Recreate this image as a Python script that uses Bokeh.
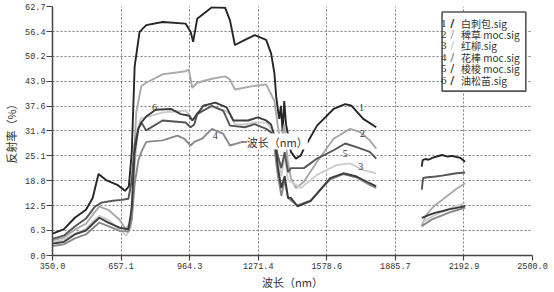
from bokeh.plotting import figure
from bokeh.models import Range1d, FixedTicker, NumeralTickFormatter, Label, BoxAnnotation
from bokeh.core.properties import value
from bokeh.embed import file_html
from bokeh.resources import INLINE

# ---------------- data ----------------
names = ["白刺包.sig", "稗草 moc.sig", "红柳.sig", "花棒 moc.sig", "梭梭 moc.sig", "油松苗.sig"]
colors = ["#262626", "#a9a9a9", "#cdcdcd", "#8a8a8a", "#555555", "#3c3c3c"]

x_ticks = [350.0, 657.1, 964.3, 1271.4, 1578.6, 1885.7, 2192.9, 2500.0]
y_ticks = [0.0, 6.3, 12.5, 18.8, 25.1, 31.4, 37.6, 43.9, 50.2, 56.4, 62.7]

# curve 1 白刺包
wl1a = [350, 400, 450, 500, 530, 556, 590, 640, 675, 692, 705, 718, 740, 770, 843, 946, 969, 980, 998, 1064, 1123,
        1145, 1167, 1212, 1256, 1307, 1329, 1344, 1352, 1360, 1366, 1373, 1381, 1388, 1396, 1403, 1418, 1440, 1462,
        1476, 1535, 1609, 1661, 1690, 1742, 1800]
r1a = [5.5, 6.6, 9.5, 11.5, 14.5, 20.5, 19.0, 17.8, 16.3, 17.4, 26.0, 47.6, 56.3, 58.0, 58.8, 58.4, 56.3, 53.8, 59.6,
       62.5, 62.4, 59.2, 53.0, 54.3, 55.5, 54.3, 50.9, 45.9, 40.0, 36.5, 34.4, 37.7, 31.0, 38.9, 33.0, 31.0, 26.1,
       24.4, 25.2, 26.9, 32.7, 36.9, 38.1, 37.7, 34.4, 32.3]
wl1b = [2004, 2008, 2020, 2035, 2051, 2075, 2095, 2120, 2139, 2160, 2176, 2198]
r1b = [22.4, 24.0, 24.3, 24.1, 24.6, 25.0, 25.3, 24.9, 25.1, 24.8, 24.6, 23.6]

# curve 2 稗草
wl2a = [350, 400, 450, 500, 540, 560, 600, 650, 680, 700, 712, 725, 748, 770, 843, 946, 961, 976, 998, 1064, 1123,
        1145, 1167, 1241, 1307, 1344, 1359, 1373, 1388, 1403, 1418, 1440, 1476, 1535, 1609, 1683, 1727, 1771, 1800]
r2a = [3.8, 4.5, 6.5, 8.0, 11.0, 12.3, 11.5, 9.0, 6.5, 8.5, 20.0, 36.0, 42.7, 43.5, 45.6, 46.4, 46.8, 42.2, 43.5,
       44.5, 45.1, 44.3, 41.8, 42.6, 43.1, 38.9, 32.7, 28.0, 33.0, 24.0, 19.5, 17.0, 18.6, 23.6, 29.4, 31.9, 31.1,
       29.0, 26.9]
wl2b = [2004, 2021, 2040, 2066, 2095, 2125, 2160, 2198]
r2b = [7.4, 9.9, 11.3, 12.8, 14.0, 15.3, 16.8, 18.2]

# curve 3 红柳
wl3a = [350, 400, 450, 500, 540, 560, 600, 650, 680, 700, 715, 730, 745, 843, 946, 969, 980, 998, 1064, 1123, 1145,
        1167, 1212, 1256, 1307, 1329, 1344, 1360, 1375, 1390, 1405, 1418, 1462, 1535, 1624, 1683, 1742, 1800]
r3a = [3.3, 4.0, 5.5, 6.8, 9.0, 10.0, 9.0, 6.5, 5.0, 7.0, 20.0, 31.0, 34.5, 36.0, 36.5, 35.0, 34.0, 36.0, 37.5, 36.5,
       35.5, 33.0, 33.0, 33.5, 33.5, 32.0, 30.0, 24.0, 20.0, 25.0, 19.0, 18.6, 17.0, 20.3, 22.8, 23.2, 21.5, 20.7]
wl3b = [2004, 2050, 2100, 2150, 2198]
r3b = [8.3, 9.8, 11.2, 12.3, 13.2]

# curve 4 花棒
wl4a = [350, 400, 450, 500, 540, 560, 600, 650, 690, 705, 718, 735, 748, 770, 843, 910, 940, 969, 985, 1020, 1064,
        1115, 1145, 1200, 1240, 1307, 1344, 1360, 1375, 1390, 1405, 1447, 1506, 1594, 1653, 1712, 1771, 1800]
r4a = [2.4, 2.8, 4.3, 5.3, 7.3, 8.3, 7.4, 6.2, 6.0, 9.0, 18.0, 24.0, 26.1, 28.6, 29.0, 30.2, 29.4, 27.7, 28.6, 29.4,
       31.9, 30.6, 27.7, 28.6, 28.5, 29.0, 27.0, 20.0, 15.0, 19.0, 14.5, 12.6, 13.9, 19.2, 20.5, 19.6, 17.8, 17.0]
wl4b = [2004, 2050, 2090, 2125, 2160, 2198]
r4b = [7.4, 9.1, 10.0, 10.8, 11.4, 12.0]

# curve 5 梭梭
wl5a = [350, 400, 450, 500, 540, 570, 620, 660, 690, 705, 718, 735, 748, 770, 843, 946, 969, 985, 998, 1064, 1115,
        1145, 1212, 1256, 1307, 1329, 1344, 1360, 1375, 1390, 1405, 1418, 1476, 1535, 1609, 1661, 1712, 1771, 1800]
r5a = [4.2, 5.0, 7.3, 9.3, 12.3, 13.3, 13.8, 14.0, 14.3, 19.0, 28.0, 32.0, 33.5, 31.5, 34.0, 33.5, 32.3, 33.0, 35.6,
       37.7, 36.4, 32.7, 32.3, 33.1, 31.9, 31.0, 29.0, 25.0, 22.0, 26.0, 21.0, 22.0, 22.0, 24.4, 26.5, 28.2, 27.3,
       26.1, 24.4]
wl5b = [2004, 2010, 2030, 2066, 2095, 2125, 2160, 2198]
r5b = [16.6, 19.5, 19.7, 19.9, 20.1, 20.4, 20.7, 20.9]

# curve 6 油松苗
wl6a = [350, 400, 450, 500, 540, 560, 600, 650, 690, 705, 718, 735, 748, 770, 812, 880, 925, 962, 976, 1026, 1079,
        1130, 1160, 1226, 1270, 1307, 1329, 1344, 1360, 1375, 1390, 1405, 1418, 1447, 1506, 1594, 1653, 1712, 1771,
        1800]
r6a = [3.0, 3.4, 5.3, 6.3, 8.5, 9.5, 8.3, 7.0, 6.6, 12.0, 26.0, 32.0, 33.5, 35.0, 36.7, 36.9, 35.6, 35.2, 34.0,
       37.7, 38.5, 37.3, 34.0, 34.0, 34.8, 34.0, 33.0, 30.0, 22.0, 17.0, 20.0, 14.5, 14.5, 12.4, 13.7, 19.5, 20.7,
       19.9, 18.2, 17.4]
wl6b = [2004, 2040, 2066, 2100, 2125, 2160, 2198]
r6b = [9.5, 10.3, 10.8, 11.2, 11.6, 12.0, 12.4]

series_a = [(wl1a, r1a), (wl2a, r2a), (wl3a, r3a), (wl4a, r4a), (wl5a, r5a), (wl6a, r6a)]
series_b = [(wl1b, r1b), (wl2b, r2b), (wl3b, r3b), (wl4b, r4b), (wl5b, r5b), (wl6b, r6b)]

curve_tags = ["1", "2", "5", "3", "4", "6"]
tag_x = [1734, 1738, 1661, 1731, 1079, 807]
tag_y = [37.3, 30.6, 25.7, 22.4, 30.2, 37.3]

# ---------------- figure ----------------
p = figure(width=554, height=292, output_backend="svg", toolbar_location=None,
           x_range=Range1d(350, 2500), y_range=Range1d(0, 62.7),
           min_border_left=45, min_border_right=22, min_border_top=6, min_border_bottom=34)
p.outline_line_color = None
p.background_fill_color = "white"
p.border_fill_color = "white"

for ax, ticks in ((p.xaxis, x_ticks), (p.yaxis, y_ticks)):
    ax.ticker = FixedTicker(ticks=ticks)
    ax.formatter = NumeralTickFormatter(format="0.0")
    ax.axis_line_color = "#444444"
    ax.axis_line_width = 1.5
    ax.major_tick_line_color = "#444444"
    ax.major_tick_line_width = 1.2
    ax.minor_tick_line_color = None
    ax.major_tick_in = 0
    ax.major_label_text_font = "Liberation Mono"
    ax.major_label_text_font_size = "8.5px"
    ax.major_label_text_color = "#333333"
    ax.axis_label_text_font = "Noto Sans CJK SC"
    ax.axis_label_text_font_size = "11px"
    ax.axis_label_text_font_style = "normal"
    ax.axis_label_text_color = "#333333"

p.xaxis.major_tick_out = 5
p.yaxis.major_tick_out = 6
p.xaxis.major_label_standoff = 2
p.yaxis.major_label_standoff = 1
p.xaxis.axis_label = "波长（nm）"
p.yaxis.axis_label = "反射率（%）"
p.xaxis.axis_label_standoff = 2
p.yaxis.axis_label_standoff = 3

for g in (p.xgrid, p.ygrid):
    g.grid_line_color = "#7a7a7a"
    g.grid_line_dash = "2 2"
    g.grid_line_width = 1

for (xa, ya), (xb, yb), c in zip(series_a, series_b, colors):
    p.line(xa, ya, line_color=c, line_width=1.9)
    p.line(xb, yb, line_color=c, line_width=1.9)

p.text(tag_x, tag_y, text=curve_tags, text_font=value("Liberation Serif"), text_font_size="10px",
       text_color="#333333", text_align="center", text_baseline="middle")

p.add_layout(Label(x=1357, y=28.7, text="波长（nm）", text_font="Noto Sans CJK SC", text_font_size="11px",
                   text_color="#333333", text_align="center", text_baseline="middle",
                   background_fill_color="white", background_fill_alpha=1.0))

# legend (custom): box annotation first, then entries as Label annotations drawn after it
p.add_layout(BoxAnnotation(left=2095, right=2470, bottom=41.4, top=61.3, fill_color="white", fill_alpha=1.0,
                           line_color="#555555", line_width=1.6, line_alpha=1.0, level="overlay"))
row_y = [58.4, 55.6, 52.8, 49.9, 47.0, 44.1]
for i, (nm, c, yv) in enumerate(zip(names, colors, row_y)):
    p.add_layout(Label(x=2103, y=yv, text=str(i + 1), text_font="Liberation Serif", text_font_size="11px",
                       text_color="#333333", text_align="center", text_baseline="middle", level="overlay"))
    p.add_layout(Label(x=2141, y=yv, text="/", text_font="DejaVu Sans", text_font_size="11px",
                       text_font_style="bold", text_color=c, text_align="center", text_baseline="middle",
                       level="overlay"))
    p.add_layout(Label(x=2180, y=yv, text=nm, text_font="Noto Sans CJK SC", text_font_size="10px",
                       text_color="#333333", text_align="left", text_baseline="middle", level="overlay"))

open("out.html", "w").write(file_html(p, INLINE))
